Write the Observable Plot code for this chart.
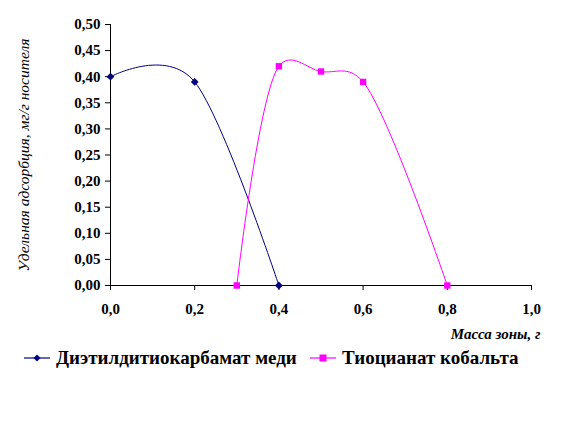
<!DOCTYPE html>
<html>
<head>
<meta charset="utf-8">
<script src="https://cdn.jsdelivr.net/npm/d3@7"></script>
<script src="https://cdn.jsdelivr.net/npm/@observablehq/plot@0.6"></script>
<style>
  body { margin: 0; background: #fff; font-family: "Liberation Serif", "Times New Roman", "DejaVu Serif", serif; }
  #legend { position: relative; height: 30px; width: 564px; }
  .item { position: absolute; top: 0; display: flex; align-items: center; font-weight: bold; font-size: 19px; color: #000; height: 26px; white-space: nowrap; }
  .item svg { margin-right: 6px; }
</style>
</head>
<body>
<div id="chart"></div>
<div id="legend"></div>
<script>
const seriesNames = ["Диэтилдитиокарбамат меди", "Тиоцианат кобальта"];
const seriesColors = ["#000080", "#FF00FF"];
const copperX = [0.0, 0.2, 0.4];
const copperY = [0.40, 0.39, 0.00];
const cobaltX = [0.3, 0.4, 0.5, 0.6, 0.8];
const cobaltY = [0.00, 0.42, 0.41, 0.39, 0.00];
const xTicks = [0, 0.2, 0.4, 0.6, 0.8, 1.0];
const yTicks = [0, 0.05, 0.1, 0.15, 0.2, 0.25, 0.3, 0.35, 0.4, 0.45, 0.5];
const xLabel = "Масса зоны, г";
const yLabel = "Удельная адсорбция, мг/г носителя";

const copper = copperX.map((x, i) => ({x, y: copperY[i]}));
const cobalt = cobaltX.map((x, i) => ({x, y: cobaltY[i]}));
const fmt = (d, n) => d.toFixed(n).replace(".", ",");
const serif = "'Liberation Serif', 'Times New Roman', 'DejaVu Serif', serif";

const chart = Plot.plot({
  width: 564,
  height: 345,
  marginTop: 24,
  marginBottom: 60,
  marginLeft: 110,
  marginRight: 33,
  style: {fontFamily: serif, fontSize: "15px", fontWeight: "bold", color: "#000", background: "#fff"},
  x: {domain: [0, 1], ticks: xTicks, tickFormat: d => fmt(d, 1), label: null, tickSize: 5, tickPadding: 13},
  y: {domain: [0, 0.5], ticks: yTicks, tickFormat: d => fmt(d, 2), label: null, tickSize: 5, tickPadding: 5},
  marks: [
    Plot.ruleX([0], {stroke: "#000", strokeWidth: 1}),
    Plot.ruleY([0], {stroke: "#000", strokeWidth: 1}),
    Plot.line(copper, {x: "x", y: "y", stroke: seriesColors[0], strokeWidth: 1, curve: "cardinal", tension: 0}),
    Plot.line(cobalt, {x: "x", y: "y", stroke: seriesColors[1], strokeWidth: 1, curve: "catmull-rom", tension: 0.3}),
    Plot.dot(copper, {x: "x", y: "y", fill: seriesColors[0], symbol: "diamond2", r: 3.5, stroke: null}),
    Plot.dot(cobalt, {x: "x", y: "y", fill: seriesColors[1], symbol: "square", r: 3.6, stroke: null}),
    Plot.text([xLabel], {frameAnchor: "bottom-right", dx: 9, dy: 53, fontStyle: "italic", fontWeight: "bold", fontSize: 15, textAnchor: "end", fontFamily: serif}),
    Plot.text([yLabel], {frameAnchor: "left", dx: -86, dy: 0, rotate: -90, textAnchor: "middle", fontStyle: "italic", fontWeight: "normal", fontSize: 15.5, fontFamily: serif})
  ]
});
document.getElementById("chart").appendChild(chart);

const legend = document.getElementById("legend");
const lefts = [24, 310];
const symbols = ["diamond", "square"];
seriesNames.forEach((name, i) => {
  const div = document.createElement("div");
  div.className = "item";
  div.style.left = lefts[i] + "px";
  const sym = symbols[i] === "diamond"
    ? `<path d="M13,9.5 L16.5,13 L13,16.5 L9.5,13 Z" fill="${seriesColors[i]}"/>`
    : `<rect x="9.5" y="9.5" width="7" height="7" fill="${seriesColors[i]}"/>`;
  div.innerHTML = `<svg width="26" height="26"><line x1="0" x2="26" y1="13" y2="13" stroke="${seriesColors[i]}" stroke-width="1.2"/>${sym}</svg><span>${name}</span>`;
  legend.appendChild(div);
});
</script>
</body>
</html>
